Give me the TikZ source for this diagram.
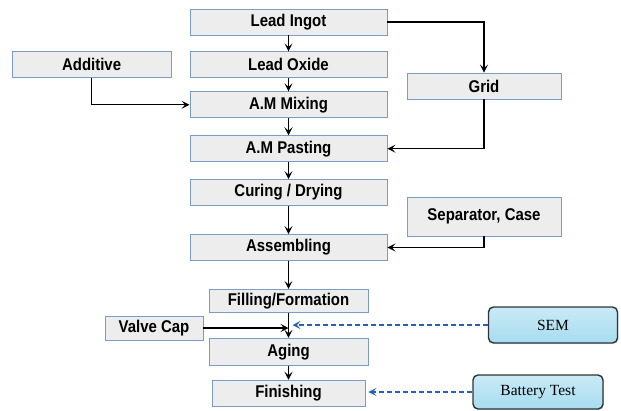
\documentclass[tikz,border=0pt]{standalone}
\usepackage{fontspec}
\setmainfont{Liberation Sans}
\newfontfamily\boxfont[FakeStretch=0.88]{Liberation Sans}
\newfontfamily\testfont{Liberation Serif}
\usetikzlibrary{positioning,arrows.meta,shadows}
\definecolor{boxfill}{HTML}{EDEDED}
\definecolor{boxline}{HTML}{7A9CC8}
\definecolor{testfill}{HTML}{A6DCEF}
\definecolor{testline}{HTML}{2E3436}
\definecolor{testarrow}{HTML}{2462B4}
\tikzset{
  process/.style={draw=boxline, fill=boxfill, line width=0.9pt, minimum height=26pt,
    inner sep=0pt, font=\boxfont\fontsize{17}{17}\selectfont\bfseries},
  mainbox/.style={process, minimum width=197pt},
  testbox/.style={draw=testline, line width=1.4pt, rounded corners=5pt,
    top color=testfill!60!white, bottom color=testfill, inner sep=0pt,
    font=\fontsize{15.5}{15.5}\selectfont\testfont, drop shadow={opacity=0.25, shadow xshift=1pt, shadow yshift=-1pt}},
  flow/.style={->, line width=1.3pt},
  check/.style={->, dash pattern=on 5pt off 3pt, testarrow, line width=1.3pt}
}
\begin{document}
\begin{tikzpicture}[x=1pt,y=1pt,>={Stealth[length=8pt,width=8pt,inset=3.5pt]}]
  \useasboundingbox (0,0) rectangle (621,-410);
  % main column
  \node[mainbox] (ingot) at (288.5,-22) {Lead Ingot};
  \node[mainbox, below=16pt of ingot] (oxide) {Lead Oxide};
  \node[mainbox, below=13pt of oxide] (mixing) {A.M Mixing};
  \node[mainbox, below=17pt of mixing] (pasting) {A.M Pasting};
  \node[mainbox, below=17pt of pasting] (curing) {Curing / Drying};
  \node[mainbox, below=28pt of curing] (assembling) {Assembling};
  \node[process, minimum width=159pt, minimum height=23pt, below=28pt of assembling] (filling) {Filling/Formation};
  \node[process, minimum width=159pt, minimum height=27pt, below=25pt of filling] (aging) {Aging};
  \node[process, minimum width=153pt, below=14pt of aging] (finishing) {Finishing};

  % side inputs
  \node[process, minimum width=159pt, left=18pt of oxide] (additive) {Additive};
  \node[process, minimum width=154pt] (grid) at (484,-86) {Grid};
  \node[process, minimum width=154pt, minimum height=39pt] (separator) at (484,-216.5) {Separator, Case};
  \node[process, minimum width=98pt, minimum height=24pt] (valve) at (154,-328) {Valve Cap};

  % tests
  \node[testbox, minimum width=129pt, minimum height=36pt] (sem) at (553,-325) {SEM};
  \node[testbox, minimum width=130pt, minimum height=34pt] (battery) at (538,-392) {Battery Test};

  % vertical flow
  \draw[flow] (ingot) -- (oxide);
  \draw[flow] (oxide) -- (mixing);
  \draw[flow] (mixing) -- (pasting);
  \draw[flow] (pasting) -- (curing);
  \draw[flow] (curing) -- (assembling);
  \draw[flow] (assembling.south) -- (assembling.south |- filling.north);
  \draw[flow] (filling.south) -- (filling.south |- aging.north);
  \draw[flow] (aging) -- (finishing);

  % side flows
  \draw[flow] (ingot.east) -| (grid.north);
  \draw[flow] (grid.south) |- (pasting.east);
  \draw[flow] (additive.south) |- (mixing.west);
  \draw[flow] (separator.south) |- (assembling.east);
  \draw[flow] (valve.east) -- (valve.east -| filling.south);

  % test links
  \draw[check] (sem.west) -- ([xshift=4pt]sem.west -| filling.south);
  \draw[check] (battery.west) -- ([xshift=3pt]battery.west -| finishing.east);
\end{tikzpicture}
\end{document}
